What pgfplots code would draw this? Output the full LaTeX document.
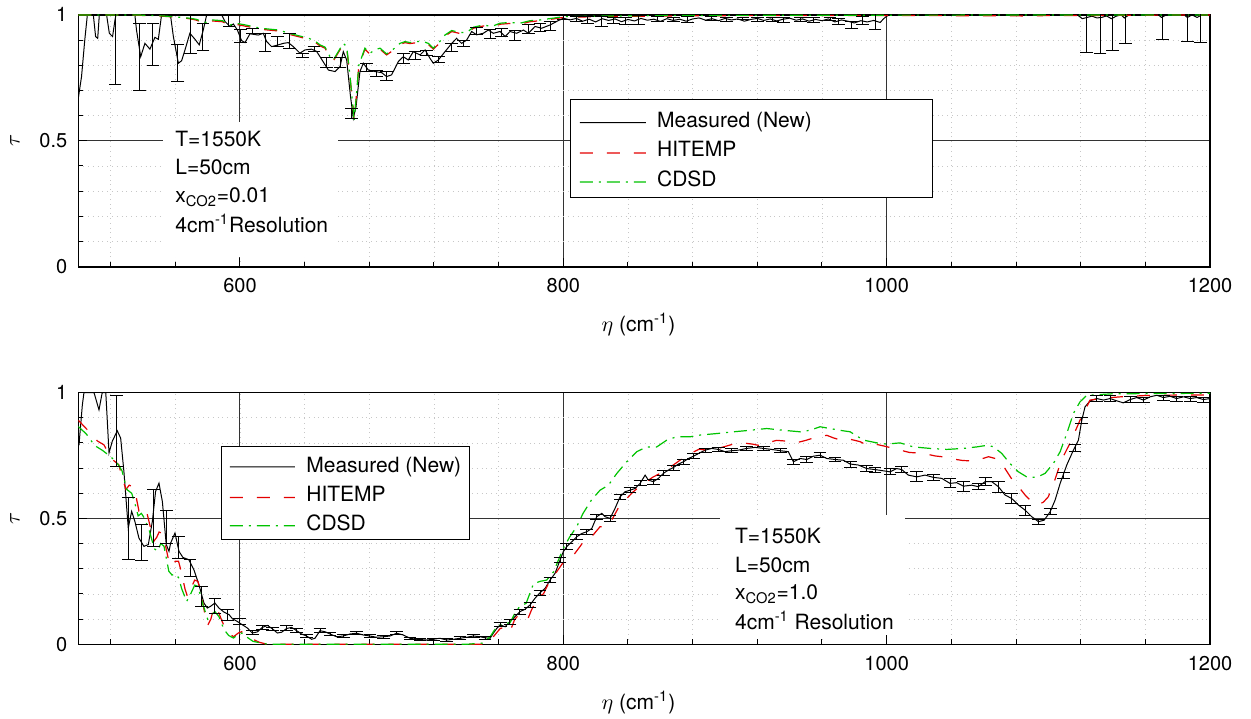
\documentclass[border=0pt]{standalone}
\usepackage{pgfplots}
\pgfplotsset{compat=1.18}
\usepackage{fontspec}
\setmainfont{TeX Gyre Heros}
\definecolor{hitemp}{RGB}{228,0,0}
\definecolor{cdsd}{RGB}{0,195,0}
\tikzset{
 meas/.style={draw=black, line width=0.5pt},
 hit/.style={draw=hitemp, line width=0.6pt, dash pattern=on 6.5pt off 7pt},
 cds/.style={draw=cdsd, line width=0.6pt, dash pattern=on 6.5pt off 3pt on 1pt off 3pt},
}
\pgfplotsset{
 myaxis/.style={
  scale only axis, width=565.85pt, height=125.9pt,
  xmin=500, xmax=1200, ymin=0, ymax=1,
  unbounded coords=jump,
  xtick={600,800,1000,1200}, xticklabels={600,800,1000,1200},
  ytick={0,0.5,1}, yticklabels={0,0.5,1},
  minor xtick={520,560,...,1160},
  minor ytick={0.1,0.2,0.3,0.4,0.6,0.7,0.8,0.9},
  grid=both,
  major grid style={black!80, line width=0.5pt},
  minor grid style={black!22, dotted, line width=0.35pt},
  tick pos=left, tick align=inside,
  major tick length=4.5pt, minor tick length=2.5pt,
  axis line style={line width=0.8pt},
  tick style={black, line width=0.5pt},
  font=\fontsize{10.5}{12.6}\selectfont,
  xticklabel style={font=\fontsize{10}{12}\selectfont, yshift=-2.5pt},
  yticklabel style={font=\fontsize{10}{12}\selectfont, xshift=-2pt},
  xlabel={$\eta$ (cm\textsuperscript{-1})},
  xlabel style={at={(axis description cs:0.495,0)}, anchor=base, yshift=-32.5pt},
 },
 ebar/.style={draw=none, forget plot,
   error bars/.cd, y dir=both, y explicit, error mark=-,
   error bar style={draw=black, solid, line width=0.5pt},
   error mark options={draw=black, solid, line width=0.5pt, mark size=3.2pt, rotate=90}},
}
\begin{document}
\begin{tikzpicture}
\path[use as bounding box] (0pt,0pt) rectangle (625.5pt,-359pt);
\node[rotate=90, font=\fontsize{11}{13}\selectfont] at (7.5pt,-70.4pt) {$\tau$};
\node[rotate=90, font=\fontsize{11}{13}\selectfont] at (7.5pt,-259.15pt) {$\tau$};

% ---------------- TOP ----------------
\begin{axis}[myaxis, at={(39.15pt,-133.35pt)}, anchor=south west]
\filldraw[fill=white, draw=black, line width=0.5pt] (rel axis cs:0.4353,0.6624) rectangle (rel axis cs:0.7548,0.2756);
\addplot[meas] table[row sep=\\, header=false]{
500 0.669\\ 502 0.755\\ 504 0.90\\ 505.6 1\\ 509.3 1\\ 510.7 0.914\\ 512 0.907\\ 513 1\\ 517.5 1\\
519.2 0.927\\ 521.2 0.914\\ 522.7 0.98\\ 523.3 1\\ 535 1\\ 536 0.94\\ 538.6 0.834\\ 541.2 0.887\\
544.3 0.864\\ 547.4 0.911\\ 549.5 0.903\\ 551.5 1\\ 557 1\\ 558.8 0.914\\ 561.9 0.808\\ 563.9 0.818\\
566 0.861\\ 569 0.927\\ 572.2 0.903\\ 574.8 0.881\\ 577.3 0.94\\ 579.4 1\\ 588.7 1\\ 590.7 0.974\\
593.8 0.954\\ 595.9 0.964\\ 598.4 0.94\\ 601 0.898\\ 603.1 0.89\\ 606.2 0.925\\ 611.3 0.92\\
614.4 0.927\\ 616.5 0.894\\ 619.6 0.874\\ 623.7 0.881\\ 626.8 0.887\\ 629.9 0.89\\ 633 0.874\\
637.1 0.848\\ 640.2 0.861\\ 644.3 0.864\\ 647.4 0.855\\ 649.5 0.834\\ 654.7 0.781\\ 658.8 0.775\\
661.9 0.795\\ 663.9 0.854\\ 666 0.821\\ 668.3 0.68\\ 670.1 0.589\\ 671.8 0.636\\ 674.2 0.775\\
676.3 0.808\\ 679.4 0.781\\ 683.5 0.775\\ 687.6 0.771\\ 690.7 0.755\\ 693.8 0.762\\ 698 0.815\\
701 0.834\\ 704.1 0.821\\ 707.2 0.854\\ 711.4 0.841\\ 714.5 0.861\\ 717.5 0.828\\ 719.6 0.808\\
722.7 0.821\\ 726.8 0.854\\ 731 0.887\\ 734 0.907\\ 737.1 0.887\\ 740.2 0.9\\ 743.3 0.934\\
746.4 0.921\\ 750.5 0.927\\ 753.6 0.94\\ 756.7 0.927\\ 760.9 0.934\\ 764 0.914\\ 767 0.934\\
771.2 0.927\\ 775.3 0.94\\ 778.4 0.927\\ 782.5 0.954\\ 786.6 0.947\\ 791.8 0.96\\ 795.9 0.974\\
800 0.987\\ 804 0.980\\ 808 0.986\\ 812 0.975\\ 816 0.983\\ 820 0.972\\ 824 0.985\\ 828 0.978\\
832 0.984\\ 836 0.973\\ 840 0.982\\ 844 0.976\\ 848 0.986\\ 852 0.979\\ 856 0.983\\ 860 0.974\\
864 0.985\\ 868 0.978\\ 872 0.983\\ 876 0.975\\ 880 0.984\\ 884 0.988\\ 888 0.979\\ 892 0.985\\
896 0.977\\ 900 0.986\\ 904 0.980\\ 908 0.984\\ 912 0.975\\ 916 0.982\\ 920 0.986\\ 924 0.978\\
928 0.984\\ 932 0.976\\ 936 0.983\\ 940 0.987\\ 944 0.979\\ 948 0.984\\ 952 0.975\\ 956 0.982\\
960 0.977\\ 964 0.984\\ 968 0.972\\ 972 0.980\\ 976 0.975\\ 980 0.968\\ 984 0.977\\ 988 0.972\\
992 0.978\\ 996 0.970\\ 998 0.984\\ 1000 0.995\\ 1002 1\\ 1118 1\\ 1121 0.985\\ 1124 0.99\\
1127 0.995\\ 1130 0.988\\ 1133 0.99\\ 1136 0.996\\ 1139 0.985\\ 1142 0.995\\ 1145 1\\ 1147 0.988\\
1150 1\\ 1168 1\\ 1170 0.99\\ 1173 1\\ 1184 1\\ 1186 0.99\\ 1189 1\\ 1192 0.99\\ 1195 1\\ 1200 1\\
nan nan\\ 810.3 0.5721\\ 851 0.5721\\
};
\addplot[hit] table[row sep=\\, header=false]{
500 1.0\\ 535.5 0.999\\ 552 0.995\\ 562.3 0.99\\ 568.5 0.985\\ 572.6 0.98\\ 578.8 0.966\\
582.9 0.976\\ 589.1 0.973\\ 594.2 0.956\\ 597.3 0.963\\ 603.5 0.955\\ 607.6 0.95\\ 612.8 0.943\\
619 0.939\\ 624.1 0.936\\ 630.3 0.923\\ 636.5 0.913\\ 642.7 0.903\\ 646.8 0.89\\ 649.5 0.877\\
652.6 0.868\\ 655.7 0.83\\ 657.7 0.817\\ 660.8 0.85\\ 663.9 0.883\\ 666 0.87\\ 668.1 0.752\\
670.1 0.62\\ 670.6 0.58\\ 672 0.68\\ 673.5 0.796\\ 677.3 0.864\\ 680.4 0.844\\ 683.5 0.857\\
686.6 0.864\\ 690.7 0.841\\ 694.9 0.86\\ 699 0.883\\ 702.1 0.89\\ 705.2 0.886\\ 709.3 0.89\\
713.4 0.89\\ 716.5 0.883\\ 719.6 0.864\\ 722.7 0.883\\ 726.8 0.916\\ 731 0.934\\ 736.1 0.926\\
740.2 0.926\\ 744.4 0.947\\ 750.5 0.956\\ 755.7 0.95\\ 760.9 0.963\\ 767 0.966\\ 773.2 0.963\\
779.4 0.973\\ 785.6 0.977\\ 793.8 0.984\\ 800 0.99\\ 820 0.993\\ 850 0.995\\ 900 0.997\\
1000 0.998\\ 1085 0.996\\ 1095 0.997\\ 1200 1.0\\
nan nan\\ 810.3 0.4517\\ 851 0.4517\\
};
\addplot[cds] table[row sep=\\, header=false]{
500 1.0\\ 535.5 1.0\\ 552 0.996\\ 562.3 0.991\\ 568.5 0.987\\ 572.6 0.983\\ 578.8 0.97\\
582.9 0.98\\ 589.1 0.977\\ 594.2 0.96\\ 597.3 0.967\\ 603.5 0.96\\ 607.6 0.954\\ 612.8 0.947\\
619 0.943\\ 624.1 0.94\\ 630.3 0.927\\ 636.5 0.917\\ 642.7 0.907\\ 646.8 0.894\\ 649.5 0.881\\
652.6 0.872\\ 655.7 0.834\\ 657.7 0.821\\ 660.8 0.854\\ 663.9 0.887\\ 666 0.874\\ 668.1 0.755\\
670.1 0.62\\ 670.6 0.576\\ 672 0.68\\ 673.5 0.80\\ 677.3 0.868\\ 680.4 0.848\\ 683.5 0.861\\
686.6 0.868\\ 690.7 0.845\\ 694.9 0.864\\ 699 0.887\\ 702.1 0.894\\ 705.2 0.89\\ 709.3 0.894\\
713.4 0.894\\ 716.5 0.887\\ 719.6 0.868\\ 722.7 0.887\\ 726.8 0.92\\ 731 0.938\\ 736.1 0.93\\
740.2 0.93\\ 744.4 0.951\\ 750.5 0.96\\ 755.7 0.954\\ 760.9 0.967\\ 767 0.97\\ 773.2 0.967\\
779.4 0.977\\ 785.6 0.98\\ 793.8 0.987\\ 800 0.993\\ 820 0.995\\ 850 0.997\\ 900 0.998\\
1000 0.999\\ 1200 1.0\\
nan nan\\ 810.3 0.3365\\ 851 0.3365\\
};
\addplot[ebar] table[row sep=\\, header=false, x index=0, y index=1, y error index=2]{
522.7 0.985 0.26\\ 538.1 0.834 0.133\\ 546.2 0.884 0.083\\ 561.6 0.808 0.073\\ 569.5 0.929 0.081\\
577.1 0.912 0.055\\ 593.2 0.977 0.023\\ 600.4 0.916 0.025\\ 607.6 0.937 0.01\\ 615.5 0.89 0.037\\
623.1 0.894 0.02\\ 630.7 0.897 0.03\\ 638.6 0.839 0.009\\ 645.8 0.864 0.01\\ 653.6 0.81 0.02\\
661.9 0.81 0.02\\ 669 0.609 0.02\\ 678.4 0.791 0.017\\ 684.6 0.768 0.013\\ 690.7 0.758 0.017\\
701 0.828 0.02\\ 708.3 0.838 0.017\\ 715.5 0.85 0.01\\ 722.7 0.822 0.012\\ 731 0.87 0.017\\
738.2 0.887 0.013\\ 746.4 0.935 0.013\\ 754.7 0.924 0.017\\ 761.9 0.93 0.017\\ 770.1 0.92 0.02\\
778.4 0.945 0.018\\ 785.6 0.95 0.017\\ 791.8 0.957 0.017\\ 800 0.99 0.01\\ 808 0.983 0.01\\
815 0.978 0.014\\ 823.5 0.975 0.02\\ 831 0.978 0.012\\ 838.7 0.975 0.015\\ 846.6 0.978 0.018\\
858.5 0.985 0.01\\ 868 0.98 0.008\\ 877 0.982 0.012\\ 891.4 0.985 0.008\\ 901 0.982 0.008\\
911.1 0.985 0.005\\ 920 0.982 0.008\\ 929.6 0.982 0.007\\ 936.1 0.98 0.01\\ 946.7 0.982 0.007\\
954.6 0.978 0.01\\ 965 0.983 0.006\\ 970.1 0.974 0.013\\ 978.4 0.96 0.013\\ 985.2 0.977 0.017\\
992.8 0.982 0.038\\ 1123.8 0.99 0.138\\ 1132 0.99 0.145\\ 1139.8 0.99 0.132\\ 1147.5 0.99 0.103\\
1170.6 0.99 0.087\\ 1186.2 0.99 0.097\\ 1193.9 0.99 0.10\\
};
\fill[white] (rel axis cs:0.0749,0.0385) rectangle (rel axis cs:0.2295,0.575);
\node[anchor=base west, inner sep=0pt] at (rel axis cs:0.0854,0.477) {T=1550K};
\node[anchor=base west, inner sep=0pt] at (rel axis cs:0.0854,0.366) {L=50cm};
\node[anchor=base west, inner sep=0pt] at (rel axis cs:0.0854,0.253) {x\textsubscript{CO2}=0.01};
\node[anchor=base west, inner sep=0pt] at (rel axis cs:0.0854,0.136) {4cm\textsuperscript{-1}Resolution};
\node[anchor=base west, inner sep=0pt] at (rel axis cs:0.5111,0.553) {Measured (New)};
\node[anchor=base west, inner sep=0pt] at (rel axis cs:0.5111,0.4376) {HITEMP};
\node[anchor=base west, inner sep=0pt] at (rel axis cs:0.5111,0.3184) {CDSD};
\end{axis}

% ---------------- BOTTOM ----------------
\begin{axis}[myaxis, at={(39.15pt,-322.15pt)}, anchor=south west]
\filldraw[fill=white, draw=black, line width=0.5pt] (rel axis cs:0.1267,0.7841) rectangle (rel axis cs:0.3461,0.4167);
\addplot[meas] table[row sep=\\, header=false]{
500.4 0.79\\ 502.5 0.95\\ 503.5 1.0\\ 509.7 1.0\\ 512.8 0.931\\ 514.8 1.0\\ 517 1.0\\ 519 0.76\\
521 0.806\\ 524.1 0.848\\ 526.2 0.819\\ 528.2 0.687\\ 530.9 0.462\\ 533 0.528\\ 535 0.488\\
537.5 0.422\\ 540.6 0.389\\ 543.3 0.396\\ 545.8 0.488\\ 547.8 0.607\\ 549.9 0.64\\ 552 0.567\\
554.4 0.396\\ 556.1 0.369\\ 557.1 0.402\\ 559.8 0.442\\ 562.3 0.369\\ 564.7 0.345\\ 568.4 0.336\\
571.5 0.296\\ 574.6 0.237\\ 577.7 0.164\\ 579.8 0.144\\ 581.8 0.151\\ 584.5 0.164\\ 587 0.144\\
590.1 0.128\\ 593.2 0.118\\ 595.3 0.102\\ 598.3 0.091\\ 601.4 0.078\\ 604.5 0.065\\ 607.6 0.045\\
610.7 0.049\\ 613.8 0.067\\ 617 0.075\\ 620 0.062\\ 623.1 0.045\\ 625.8 0.048\\ 628.9 0.063\\
632 0.067\\ 635.1 0.054\\ 638.1 0.041\\ 641.2 0.033\\ 644.3 0.02\\ 646.4 0.024\\ 649.5 0.054\\
652.6 0.05\\ 655.7 0.041\\ 659.8 0.03\\ 663.9 0.033\\ 668.1 0.041\\ 672.2 0.044\\ 676.3 0.037\\
680.4 0.033\\ 684.5 0.028\\ 688.7 0.03\\ 692.8 0.033\\ 696.9 0.044\\ 701 0.037\\ 705.2 0.024\\
709.3 0.02\\ 715.5 0.017\\ 719.6 0.02\\ 723.7 0.024\\ 727.9 0.017\\ 732 0.02\\ 736.1 0.024\\
740.2 0.028\\ 744.4 0.033\\ 748.5 0.03\\ 751.6 0.026\\ 754.7 0.024\\ 756.7 0.044\\ 758.8 0.063\\
760.9 0.077\\ 764 0.07\\ 767 0.09\\ 770.1 0.11\\ 773.2 0.13\\ 776.3 0.139\\ 779.4 0.156\\
782.5 0.183\\ 785.6 0.205\\ 788.7 0.222\\ 791.8 0.255\\ 794.9 0.282\\ 798 0.335\\ 800 0.368\\
802.1 0.388\\ 805.2 0.407\\ 808.3 0.427\\ 811.4 0.44\\ 814.5 0.447\\ 817.6 0.46\\ 820.7 0.507\\
823.8 0.52\\ 825.8 0.507\\ 828.9 0.50\\ 832 0.54\\ 835.1 0.586\\ 838.2 0.606\\ 841.3 0.612\\
844.4 0.619\\ 847.5 0.639\\ 850.6 0.672\\ 852.6 0.652\\ 855.7 0.646\\ 858.8 0.659\\ 861.9 0.679\\
865 0.692\\ 868.1 0.702\\ 871.2 0.716\\ 874.3 0.725\\ 877.4 0.738\\ 880.5 0.747\\ 884.6 0.761\\
887.7 0.771\\ 891.8 0.778\\ 895.9 0.774\\ 900 0.765\\ 904.2 0.769\\ 908.3 0.771\\ 913.4 0.778\\
918.6 0.782\\ 923.8 0.778\\ 928.9 0.774\\ 934.1 0.769\\ 939.2 0.765\\ 942.3 0.725\\ 946.4 0.738\\
950.6 0.734\\ 954.7 0.747\\ 958.8 0.751\\ 962.9 0.738\\ 968.1 0.734\\ 973.2 0.731\\ 977.4 0.716\\
982.5 0.712\\ 987.7 0.698\\ 992.8 0.694\\ 998 0.689\\ 1002.1 0.685\\ 1006.2 0.698\\ 1009.3 0.694\\
1013.4 0.672\\ 1018.6 0.665\\ 1023.8 0.672\\ 1028.9 0.663\\ 1034.1 0.659\\ 1039.2 0.639\\
1043.3 0.642\\ 1047.5 0.628\\ 1052.6 0.632\\ 1056.7 0.626\\ 1060.9 0.646\\ 1065 0.646\\
1069.1 0.626\\ 1073.2 0.593\\ 1077.4 0.579\\ 1081.5 0.553\\ 1085.6 0.533\\ 1089.7 0.507\\
1093.9 0.487\\ 1097.4 0.493\\ 1101.1 0.526\\ 1104.2 0.573\\ 1107.3 0.639\\ 1111.4 0.712\\
1115.5 0.771\\ 1118.6 0.811\\ 1120.7 0.89\\ 1122.7 0.943\\ 1125.8 0.967\\ 1130 0.976\\
1134.1 0.97\\ 1138.2 0.976\\ 1142.3 0.967\\ 1146.4 0.959\\ 1150.6 0.972\\ 1154.7 0.98\\
1158.8 0.97\\ 1163 0.983\\ 1167.1 0.989\\ 1171.2 0.98\\ 1175.3 0.985\\ 1179.4 0.976\\
1183.6 0.983\\ 1187.7 0.976\\ 1191.8 0.98\\ 1195.9 0.972\\ 1200 0.976\\
nan nan\\ 593.8 0.7048\\ 634 0.7048\\
};
\addplot[hit] table[row sep=\\, header=false]{
500 0.89\\ 505.6 0.852\\ 511.7 0.808\\ 515.9 0.792\\ 519 0.753\\ 522 0.729\\ 525.1 0.713\\
527.2 0.66\\ 529.5 0.615\\ 531.5 0.632\\ 533.4 0.627\\ 535.5 0.594\\ 537.5 0.53\\ 539.5 0.545\\
541 0.54\\ 542.7 0.515\\ 544.7 0.462\\ 546.8 0.41\\ 548.5 0.425\\ 550 0.446\\ 552 0.44\\
554 0.39\\ 556 0.33\\ 558 0.31\\ 560 0.33\\ 562 0.33\\ 564 0.28\\ 566 0.22\\ 567.5 0.19\\
569.5 0.22\\ 572 0.255\\ 574 0.25\\ 576 0.2\\ 578 0.13\\ 580 0.075\\ 582 0.1\\ 584 0.15\\
586 0.14\\ 589 0.09\\ 592 0.05\\ 596 0.03\\ 599 0.045\\ 601 0.05\\ 604 0.035\\ 608 0.02\\
612 0.008\\ 617 0.0\\ 750 0.0\\ 754.7 0.01\\ 756.7 0.03\\ 761 0.063\\ 764 0.068\\ 767 0.05\\
770 0.10\\ 773 0.12\\ 776 0.11\\ 778 0.10\\ 780.3 0.136\\ 784.6 0.19\\ 787.7 0.20\\ 791.8 0.255\\
795.9 0.288\\ 801 0.335\\ 807 0.36\\ 810.3 0.388\\ 814.5 0.427\\ 818.4 0.434\\ 822.7 0.467\\
826.8 0.467\\ 830 0.494\\ 835 0.553\\ 839.2 0.579\\ 843.3 0.606\\ 849.5 0.639\\ 855.7 0.665\\
861.9 0.685\\ 868 0.712\\ 876.3 0.75\\ 884 0.775\\ 890 0.77\\ 897 0.78\\ 905 0.795\\ 911 0.80\\
917 0.795\\ 921 0.79\\ 926 0.80\\ 932 0.81\\ 938 0.807\\ 944 0.80\\ 950 0.81\\ 955 0.82\\
958.8 0.825\\ 963 0.83\\ 967 0.82\\ 972 0.81\\ 977 0.815\\ 983.5 0.805\\ 988 0.79\\ 993 0.795\\
998 0.788\\ 1003 0.78\\ 1008 0.772\\ 1014 0.762\\ 1023 0.758\\ 1030 0.748\\ 1037 0.743\\
1042 0.735\\ 1047 0.73\\ 1054 0.728\\ 1058 0.735\\ 1063 0.745\\ 1069 0.735\\ 1073 0.70\\
1077 0.66\\ 1081 0.63\\ 1086 0.59\\ 1090 0.565\\ 1094 0.555\\ 1097 0.565\\ 1100 0.586\\
1104 0.652\\ 1108 0.73\\ 1113.5 0.80\\ 1119.6 0.89\\ 1122.7 0.93\\ 1125.8 0.97\\ 1135 0.978\\
1145 0.983\\ 1160 0.988\\ 1180 0.99\\ 1200 0.99\\
nan nan\\ 593.8 0.5833\\ 634 0.5833\\
};
\addplot[cds] table[row sep=\\, header=false]{
500 0.865\\ 505 0.835\\ 510 0.79\\ 515 0.77\\ 520 0.745\\ 524 0.72\\ 527 0.69\\ 530 0.615\\
533 0.60\\ 535 0.56\\ 537 0.51\\ 539 0.52\\ 541 0.50\\ 544 0.45\\ 547 0.38\\ 549 0.37\\
551 0.40\\ 553 0.39\\ 556 0.29\\ 558 0.275\\ 560 0.28\\ 562 0.265\\ 564 0.22\\ 567 0.17\\
569.5 0.2\\ 572 0.235\\ 574 0.23\\ 577 0.16\\ 580 0.10\\ 582 0.115\\ 584.5 0.13\\ 587 0.11\\
590 0.06\\ 593 0.035\\ 596 0.025\\ 599 0.04\\ 601 0.045\\ 604 0.03\\ 608 0.012\\ 613 0.005\\
618 0.0\\ 740 0.0\\ 750 0.005\\ 754.7 0.03\\ 758.8 0.07\\ 763 0.083\\ 767 0.085\\ 770 0.123\\
773 0.15\\ 777 0.163\\ 781.5 0.24\\ 785.6 0.25\\ 789.7 0.255\\ 794 0.288\\ 797 0.335\\
800 0.381\\ 804 0.427\\ 808.3 0.467\\ 812.2 0.52\\ 817.4 0.573\\ 822.7 0.612\\ 827.9 0.632\\
833 0.678\\ 839.2 0.725\\ 845.4 0.765\\ 851.6 0.784\\ 857.8 0.784\\ 864 0.811\\ 870 0.824\\
878.2 0.824\\ 884.6 0.831\\ 894.9 0.837\\ 905.2 0.844\\ 915.5 0.85\\ 925.8 0.857\\ 936.1 0.85\\
946.4 0.844\\ 952.6 0.85\\ 958.8 0.864\\ 965 0.857\\ 971 0.85\\ 977.4 0.844\\ 985.6 0.811\\
993.9 0.80\\ 1000 0.795\\ 1008.3 0.80\\ 1016.5 0.784\\ 1026.8 0.778\\ 1037.2 0.774\\
1047.5 0.778\\ 1055.7 0.784\\ 1061.9 0.79\\ 1066 0.785\\ 1071.2 0.758\\ 1076.3 0.718\\
1081.5 0.685\\ 1086.6 0.665\\ 1092.8 0.663\\ 1098 0.679\\ 1103.1 0.718\\ 1107.3 0.765\\
1111.4 0.837\\ 1115.5 0.917\\ 1119.6 0.963\\ 1123.8 0.989\\ 1140 0.995\\ 1200 0.997\\
nan nan\\ 593.8 0.4706\\ 634 0.4706\\
};
\addplot[ebar] table[row sep=\\, header=false, x index=0, y index=1, y error index=2]{
523.7 0.847 0.142\\ 531 0.459 0.124\\ 539.3 0.403 0.071\\ 546.5 0.502 0.114\\ 554.6 0.466 0.066\\
561.8 0.384 0.043\\ 569.1 0.302 0.033\\ 576.3 0.19 0.041\\ 584.5 0.153 0.03\\ 592.2 0.116 0.023\\
599.6 0.09 0.013\\ 607.6 0.045 0.008\\ 613.8 0.067 0.008\\ 620 0.062 0.006\\ 628.9 0.063 0.01\\
635.1 0.054 0.008\\ 641.2 0.033 0.006\\ 649.5 0.054 0.008\\ 655.7 0.041 0.006\\ 663.9 0.033 0.005\\
672.2 0.044 0.006\\ 680.4 0.033 0.005\\ 688.7 0.03 0.005\\ 696.9 0.044 0.006\\ 705.2 0.024 0.005\\
711.4 0.019 0.005\\ 719.6 0.02 0.005\\ 727.9 0.017 0.005\\ 736.1 0.024 0.006\\ 744.4 0.033 0.007\\
751.6 0.026 0.006\\ 760.9 0.077 0.008\\ 767 0.09 0.01\\ 773.2 0.13 0.01\\ 779.4 0.156 0.01\\
785.6 0.205 0.01\\ 791.8 0.255 0.01\\ 798 0.335 0.01\\ 802.1 0.388 0.012\\ 808.3 0.427 0.01\\
814.5 0.447 0.01\\ 820.7 0.507 0.01\\ 828.9 0.50 0.012\\ 835.1 0.586 0.01\\ 841.3 0.612 0.01\\
847.5 0.639 0.01\\ 855.7 0.646 0.01\\ 861.9 0.679 0.01\\ 868.1 0.702 0.01\\ 874.3 0.725 0.01\\
880.5 0.747 0.01\\ 887.7 0.771 0.008\\ 895.9 0.774 0.008\\ 904.2 0.769 0.008\\ 913.4 0.778 0.008\\
923.8 0.778 0.008\\ 934.1 0.769 0.008\\ 942.3 0.725 0.01\\ 950.6 0.734 0.01\\ 958.8 0.751 0.01\\
968.1 0.734 0.008\\ 977.4 0.716 0.012\\ 987.7 0.698 0.012\\ 992.8 0.694 0.01\\ 1002.1 0.685 0.012\\
1009.3 0.694 0.012\\ 1018.6 0.665 0.02\\ 1028.9 0.663 0.012\\ 1039.2 0.639 0.018\\
1047.5 0.628 0.02\\ 1056.7 0.626 0.012\\ 1060.9 0.646 0.015\\ 1069.1 0.626 0.022\\
1077.4 0.579 0.02\\ 1085.6 0.533 0.02\\ 1093.9 0.487 0.01\\ 1101.1 0.526 0.012\\
1109.3 0.67 0.012\\ 1116.5 0.78 0.015\\ 1120.7 0.89 0.012\\ 1130 0.976 0.012\\ 1138.2 0.976 0.012\\
1150.6 0.972 0.012\\ 1158.8 0.97 0.01\\ 1171.2 0.98 0.01\\ 1179.4 0.976 0.01\\ 1187.7 0.976 0.01\\
1195.9 0.972 0.01\\
};
\fill[white] (rel axis cs:0.567,0.037) rectangle (rel axis cs:0.7305,0.513);
\node[anchor=base west, inner sep=0pt] at (rel axis cs:0.580,0.401) {T=1550K};
\node[anchor=base west, inner sep=0pt] at (rel axis cs:0.580,0.284) {L=50cm};
\node[anchor=base west, inner sep=0pt] at (rel axis cs:0.580,0.176) {x\textsubscript{CO2}=1.0};
\node[anchor=base west, inner sep=0pt] at (rel axis cs:0.580,0.060) {4cm\textsuperscript{-1} Resolution};
\node[anchor=base west, inner sep=0pt] at (rel axis cs:0.2012,0.6806) {Measured (New)};
\node[anchor=base west, inner sep=0pt] at (rel axis cs:0.2012,0.5667) {HITEMP};
\node[anchor=base west, inner sep=0pt] at (rel axis cs:0.2012,0.4536) {CDSD};
\end{axis}
\end{tikzpicture}
\end{document}
